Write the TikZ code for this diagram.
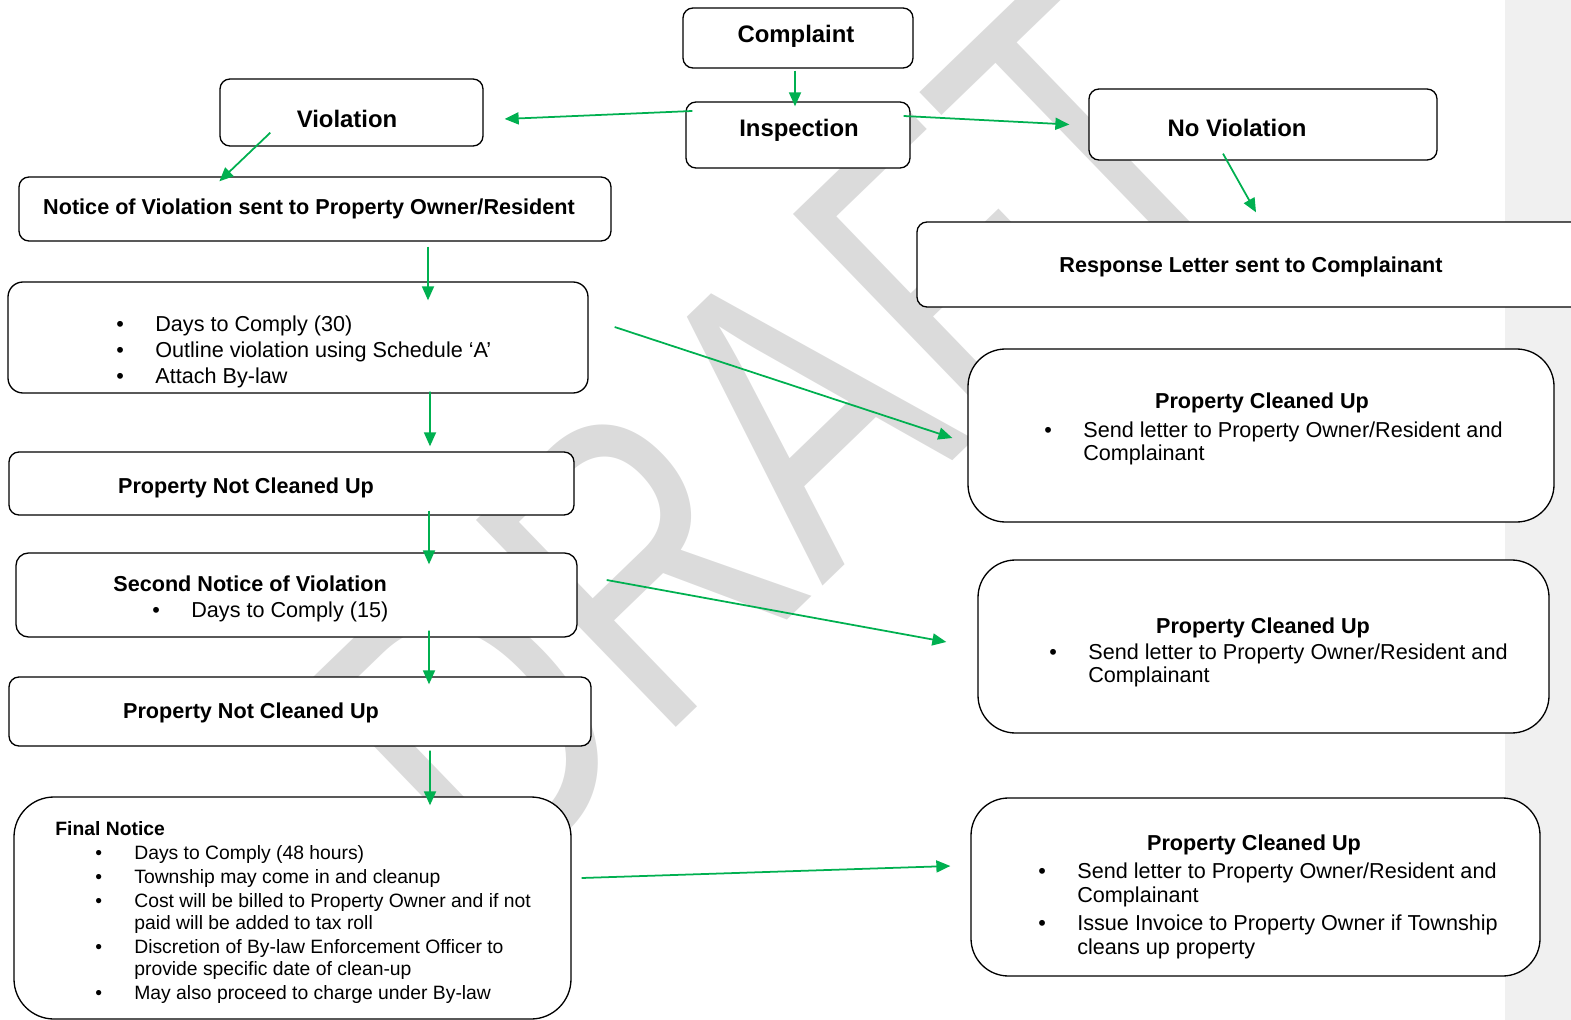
\documentclass[tikz,border=0pt]{standalone}
\usepackage{fontspec}
\setmainfont{Liberation Sans}
\usepackage{tikz}
\usetikzlibrary{arrows.meta, calc, fit, positioning}
\definecolor{flowgreen}{HTML}{00B050}
\tikzset{
    box/.style = {draw, fill=white, line width=0.75pt, inner sep=0pt, rounded corners=0.2cm}, % frame only, its size comes from fit
    round/.style = {box, rounded corners=0.75cm}, % the big boxes on the right
    T/.style = {anchor=base, inner sep=0pt, font=\fontsize{13.6}{16}\selectfont\bfseries},
    TS/.style = {anchor=base, inner sep=0pt, font=\fontsize{12.3}{14.5}\selectfont\bfseries},
    LST/.style = {anchor=base west, inner sep=0pt, font=\fontsize{12.3}{13.6}\selectfont}, % bullet lists
    flow/.style = {-{Triangle[length=0.28cm, width=0.24cm]}, draw=flowgreen, line width=1pt},
    wm/.style = {text=black!14, font=\fontsize{238}{238}\selectfont, inner sep=0pt}
}
\begin{document}
\begin{tikzpicture}[x=0.02cm, y=-0.02cm]
  \useasboundingbox (0,0) rectangle (1571,1020);
  \clip (0,0) rectangle (1571,1020);
  \fill[black!6] (1505,0) rectangle (1571,1020);
  \node[wm, rotate=44, xscale=0.76] (draft) at (773,434) {DRAFT};

  % frames
  \node[box, fit={(683,8) (913,68)}] (complaint) {};
  \node[box, fit={(686,102) (910,168)}] (inspection) {};
  \node[box, fit={(220,79) (483,146)}] (violation) {};
  \node[box, fit={(1089,89) (1437,160)}] (noviol) {};
  \node[box, fit={(19,177) (611,241)}] (notice) {};
  \node[box, fit={(917,222) (1585,307)}] (response) {};
  \node[box, rounded corners=0.3cm, fit={(8,282) (588,393)}] (days) {};
  \node[box, fit={(9,452) (574,515)}] (pncu1) {};
  \node[box, rounded corners=0.25cm, fit={(16,553) (577,637)}] (second) {};
  \node[box, fit={(9,677) (591,746)}] (pncu2) {};
  \node[box, rounded corners=0.8cm, fit={(14,797) (571,1019)}] (final) {};
  \node[round, fit={(968,349) (1554,522)}] (clean1) {};
  \node[round, fit={(978,560) (1549,733)}] (clean2) {};
  \node[round, fit={(971,798) (1540,976)}] (clean3) {};

  % texts
  \node[T] (complaint-t) at (796,43) {Complaint};
  \node[T] (inspection-t) at (799,137) {Inspection};
  \node[T] (violation-t) at (347,128) {Violation};
  \node[T] (noviol-t) at (1237,137) {No Violation};
  \node[TS] (notice-t) at (309,215) {Notice of Violation sent to Property Owner/Resident};
  \node[TS] (response-t) at (1251,273) {Response Letter sent to Complainant};
  \node[LST, font=\fontsize{12.3}{14.6}\selectfont] (days-t) at (116,332) {\begin{tabular}[t]{@{}p{0.78cm}@{}l@{}}
    \textbullet & Days to Comply (30)\\
    \textbullet & Outline violation using Schedule ‘A’\\
    \textbullet & Attach By-law
  \end{tabular}};
  \node[TS] (pncu1-t) at (246,493) {Property Not Cleaned Up};
  \node[TS, anchor=base west] (second-t) at (113,591) {Second Notice of Violation};
  \node[LST] (second-l) at (152,617) {\begin{tabular}[t]{@{}p{0.78cm}@{}l@{}}
    \textbullet & Days to Comply (15)
  \end{tabular}};
  \node[TS] (pncu2-t) at (251,718) {Property Not Cleaned Up};
  \node[TS, anchor=base west, font=\fontsize{11}{12.5}\selectfont\bfseries] (final-t) at (55,835) {Final Notice};
  \node[LST, font=\fontsize{11}{12.5}\selectfont] (final-l) at (95,859) {\begin{tabular}[t]{@{}p{0.78cm}@{}l@{}}
    \textbullet & Days to Comply (48 hours)\\[1.2pt]
    \textbullet & Township may come in and cleanup\\[1.2pt]
    \textbullet & Cost will be billed to Property Owner and if not\\
                & paid will be added to tax roll\\[1.2pt]
    \textbullet & Discretion of By-law Enforcement Officer to\\
                & provide specific date of clean-up\\[1.2pt]
    \textbullet & May also proceed to charge under By-law
  \end{tabular}};
  \node[TS] (clean1-t) at (1262,408) {Property Cleaned Up};
  \node[LST] (clean1-l) at (1044,437) {\begin{tabular}[t]{@{}p{0.78cm}@{}l@{}}
    \textbullet & Send letter to Property Owner/Resident and\\
                & Complainant
  \end{tabular}};
  \node[TS] (clean2-t) at (1263,633) {Property Cleaned Up};
  \node[LST] (clean2-l) at (1049,659) {\begin{tabular}[t]{@{}p{0.78cm}@{}l@{}}
    \textbullet & Send letter to Property Owner/Resident and\\
                & Complainant
  \end{tabular}};
  \node[TS] (clean3-t) at (1254,850) {Property Cleaned Up};
  \node[LST, font=\fontsize{12.3}{13.8}\selectfont] (clean3-l) at (1038,878) {\begin{tabular}[t]{@{}p{0.78cm}@{}l@{}}
    \textbullet & Send letter to Property Owner/Resident and\\
                & Complainant\\[2pt]
    \textbullet & Issue Invoice to Property Owner if Township\\
                & cleans up property
  \end{tabular}};

  % arrows
  \draw[flow] ($(complaint.south)+(-3,2)$) -- ($(inspection.north)+(-3,5)$);
  \draw[flow] ($(inspection.west)+(7,-24)$) -- ($(violation.east)+(21,6.5)$);
  \draw[flow] ($(inspection.east)+(-7,-19)$) -- ($(noviol.west)+(-19,0)$);
  \draw[flow] ($(violation.south west)+(51,-14)$) -- ($(notice.north west)+(201,5)$);
  \draw[flow] ($(noviol.south)+(-40,-7)$) -- ($(response.north)+(5,-9)$);
  \draw[flow] ($(notice.south)+(113,5)$) -- ($(days.north)+(130,19)$);
  \draw[flow] ($(days.south)+(132,-2)$) -- ($(pncu1.north)+(138.5,-5)$);
  \draw[flow] ($(pncu1.south)+(137.5,-5)$) -- ($(second.north)+(132.5,12)$);
  \draw[flow] ($(second.south)+(132.5,-7)$) -- ($(pncu2.north)+(129,8)$);
  \draw[flow] ($(pncu2.south)+(130,4)$) -- ($(final.north)+(137.5,9)$);
  \draw[flow] ($(days.east)+(26,-10.5)$) -- ($(clean1.west)+(-15,2.5)$);
  \draw[flow] ($(second.east)+(29,-15)$) -- ($(clean2.west)+(-31,-4.5)$);
  \draw[flow] ($(final.east)+(10,-30)$) -- ($(clean3.west)+(-20,-21)$);
\end{tikzpicture}
\end{document}
